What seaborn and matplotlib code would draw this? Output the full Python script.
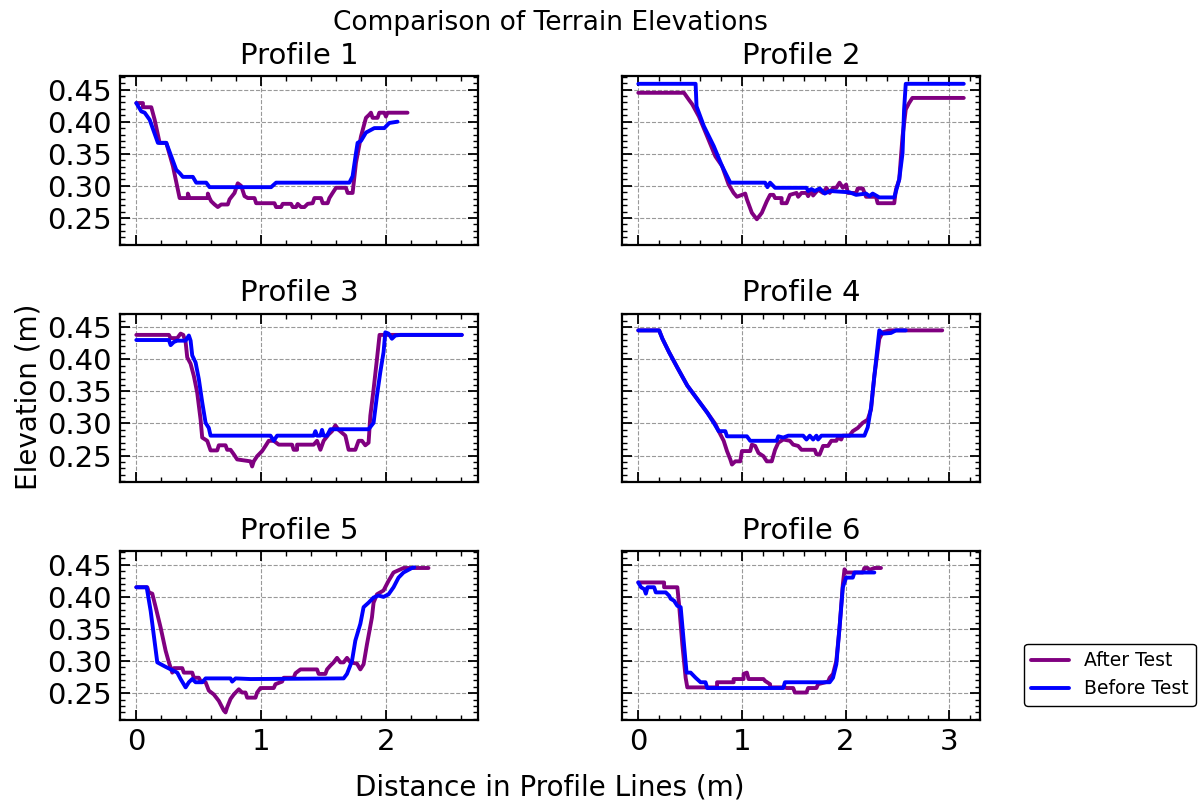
import matplotlib
matplotlib.use("Agg")
import matplotlib.pyplot as plt
from matplotlib.ticker import AutoMinorLocator, MultipleLocator, FormatStrFormatter
from matplotlib.lines import Line2D
import pandas as pd
import seaborn as sns

# Surveyed elevation profiles: (distance along line [m], elevation [m])
P1_AFTER = [(0, 0.429), (0.053, 0.429), (0.053, 0.4225), (0.12, 0.4225), (0.147, 0.403), (0.187, 0.367),
            (0.24, 0.367), (0.293, 0.331), (0.347, 0.281), (0.413, 0.281), (0.413, 0.288), (0.427, 0.281),
            (0.573, 0.281), (0.573, 0.288), (0.587, 0.281), (0.6, 0.276), (0.627, 0.271), (0.653, 0.267),
            (0.68, 0.271), (0.733, 0.271), (0.747, 0.279), (0.787, 0.289), (0.813, 0.304), (0.84, 0.3),
            (0.867, 0.284), (0.893, 0.281), (0.947, 0.281), (0.96, 0.273), (1.107, 0.273), (1.12, 0.267),
            (1.16, 0.267), (1.173, 0.272), (1.24, 0.272), (1.253, 0.267), (1.28, 0.267), (1.293, 0.272),
            (1.32, 0.267), (1.347, 0.267), (1.373, 0.272), (1.413, 0.273), (1.427, 0.281), (1.48, 0.281),
            (1.493, 0.273), (1.533, 0.273), (1.547, 0.281), (1.573, 0.289), (1.6, 0.297), (1.68, 0.297),
            (1.693, 0.289), (1.733, 0.289), (1.76, 0.336), (1.8, 0.377), (1.84, 0.406), (1.867, 0.411),
            (1.88, 0.414), (1.893, 0.406), (1.933, 0.406), (1.947, 0.414), (1.987, 0.414), (2.0, 0.408),
            (2.013, 0.414), (2.173, 0.414)]
P1_BEFORE = [(0, 0.429), (0.04, 0.416), (0.067, 0.414), (0.107, 0.403), (0.173, 0.367), (0.24, 0.367),
             (0.28, 0.346), (0.32, 0.325), (0.347, 0.32), (0.373, 0.314), (0.453, 0.314), (0.48, 0.305),
             (0.56, 0.305), (0.587, 0.298), (1.08, 0.298), (1.12, 0.305), (1.707, 0.305), (1.733, 0.315),
             (1.76, 0.351), (1.773, 0.367), (1.8, 0.37), (1.84, 0.383), (1.907, 0.39), (1.987, 0.39),
             (2.027, 0.398), (2.093, 0.4)]

P2_AFTER = [(0, 0.445), (0.441, 0.445), (0.489, 0.434), (0.521, 0.427), (0.585, 0.408), (0.665, 0.377),
            (0.744, 0.346), (0.808, 0.331), (0.872, 0.302), (0.92, 0.289), (0.952, 0.283), (1.0, 0.286),
            (1.032, 0.288), (1.048, 0.279), (1.096, 0.258), (1.144, 0.248), (1.192, 0.258), (1.24, 0.276),
            (1.272, 0.286), (1.304, 0.286), (1.32, 0.281), (1.383, 0.281), (1.383, 0.273), (1.431, 0.273),
            (1.463, 0.286), (1.527, 0.289), (1.543, 0.283), (1.575, 0.289), (1.623, 0.289), (1.639, 0.284),
            (1.671, 0.293), (1.687, 0.285), (1.735, 0.294), (1.783, 0.289), (1.815, 0.297), (1.847, 0.289),
            (1.879, 0.297), (1.911, 0.297), (1.942, 0.305), (1.974, 0.297), (2.006, 0.302), (2.022, 0.289),
            (2.102, 0.289), (2.118, 0.296), (2.166, 0.296), (2.198, 0.283), (2.294, 0.283), (2.31, 0.273),
            (2.47, 0.273), (2.486, 0.294), (2.518, 0.31), (2.55, 0.377), (2.581, 0.419), (2.613, 0.429),
            (2.645, 0.437), (3.141, 0.437)]
P2_BEFORE = [(0, 0.459), (0.553, 0.459), (0.562, 0.424), (0.633, 0.393), (0.728, 0.362), (0.808, 0.331),
             (0.888, 0.305), (1.224, 0.305), (1.246, 0.298), (1.272, 0.305), (1.32, 0.297), (1.623, 0.297),
             (1.639, 0.292), (1.671, 0.295), (1.703, 0.292), (1.751, 0.296), (1.799, 0.288), (1.847, 0.292),
             (2.038, 0.29), (2.102, 0.286), (2.198, 0.288), (2.23, 0.284), (2.262, 0.288), (2.294, 0.285),
             (2.326, 0.282), (2.47, 0.282), (2.518, 0.31), (2.55, 0.351), (2.565, 0.419), (2.581, 0.459),
             (3.141, 0.459)]

P3_AFTER = [(0, 0.438), (0.261, 0.438), (0.275, 0.433), (0.328, 0.433), (0.355, 0.44), (0.376, 0.438),
            (0.395, 0.427), (0.408, 0.403), (0.435, 0.393), (0.461, 0.374), (0.488, 0.348), (0.515, 0.306),
            (0.528, 0.278), (0.568, 0.273), (0.595, 0.258), (0.648, 0.258), (0.661, 0.266), (0.715, 0.266),
            (0.728, 0.259), (0.755, 0.259), (0.781, 0.252), (0.808, 0.244), (0.915, 0.241), (0.928, 0.233),
            (0.941, 0.241), (0.968, 0.249), (1.008, 0.257), (1.035, 0.265), (1.061, 0.273), (1.101, 0.273),
            (1.141, 0.267), (1.248, 0.267), (1.261, 0.259), (1.288, 0.259), (1.288, 0.267), (1.421, 0.267),
            (1.448, 0.273), (1.475, 0.259), (1.501, 0.273), (1.541, 0.283), (1.568, 0.288), (1.595, 0.297),
            (1.621, 0.29), (1.675, 0.281), (1.701, 0.259), (1.755, 0.259), (1.781, 0.273), (1.808, 0.273),
            (1.835, 0.266), (1.861, 0.27), (1.875, 0.312), (1.901, 0.353), (1.928, 0.4), (1.949, 0.438),
            (2.608, 0.438)]
P3_BEFORE = [(0, 0.43), (0.261, 0.43), (0.275, 0.422), (0.301, 0.427), (0.328, 0.429), (0.395, 0.429),
             (0.421, 0.437), (0.435, 0.429), (0.448, 0.406), (0.475, 0.395), (0.501, 0.369), (0.528, 0.333),
             (0.555, 0.301), (0.581, 0.293), (0.595, 0.281), (1.075, 0.281), (1.101, 0.273), (1.128, 0.281),
             (1.421, 0.281), (1.435, 0.288), (1.448, 0.281), (1.475, 0.281), (1.488, 0.29), (1.501, 0.281),
             (1.528, 0.281), (1.555, 0.291), (1.861, 0.291), (1.901, 0.301), (1.928, 0.343), (1.955, 0.38),
             (1.981, 0.411), (1.995, 0.442), (2.021, 0.44), (2.048, 0.432), (2.075, 0.437), (2.115, 0.438),
             (2.608, 0.438)]

P4_AFTER = [(0, 0.445), (0.201, 0.445), (0.233, 0.432), (0.297, 0.411), (0.377, 0.387), (0.473, 0.359),
            (0.569, 0.338), (0.665, 0.317), (0.744, 0.299), (0.776, 0.288), (0.824, 0.273), (0.856, 0.257),
            (0.888, 0.244), (0.904, 0.236), (0.936, 0.241), (0.984, 0.241), (1.0, 0.257), (1.08, 0.257),
            (1.096, 0.267), (1.128, 0.265), (1.16, 0.254), (1.208, 0.249), (1.24, 0.241), (1.288, 0.241),
            (1.32, 0.259), (1.351, 0.27), (1.399, 0.275), (1.463, 0.273), (1.495, 0.267), (1.543, 0.265),
            (1.575, 0.259), (1.703, 0.259), (1.719, 0.252), (1.751, 0.252), (1.783, 0.265), (1.831, 0.265),
            (1.863, 0.273), (1.911, 0.273), (1.927, 0.278), (1.958, 0.275), (1.974, 0.281), (2.038, 0.281),
            (2.07, 0.288), (2.118, 0.293), (2.166, 0.301), (2.214, 0.306), (2.246, 0.322), (2.278, 0.374),
            (2.326, 0.432), (2.358, 0.442), (2.422, 0.445), (2.933, 0.445)]
P4_BEFORE = [(0, 0.445), (0.201, 0.445), (0.233, 0.432), (0.297, 0.411), (0.377, 0.387), (0.473, 0.359),
             (0.569, 0.338), (0.665, 0.317), (0.728, 0.301), (0.776, 0.288), (0.84, 0.288), (0.856, 0.28),
             (1.048, 0.28), (1.08, 0.273), (1.335, 0.273), (1.351, 0.28), (1.399, 0.278), (1.447, 0.281),
             (1.591, 0.281), (1.623, 0.275), (1.655, 0.281), (1.687, 0.275), (1.719, 0.281), (1.735, 0.275),
             (1.767, 0.281), (2.182, 0.281), (2.214, 0.294), (2.246, 0.325), (2.278, 0.374), (2.326, 0.445),
             (2.358, 0.44), (2.438, 0.441), (2.486, 0.445), (2.581, 0.445)]

P5_AFTER = [(0, 0.415), (0.088, 0.415), (0.101, 0.407), (0.128, 0.405), (0.155, 0.384), (0.195, 0.352),
            (0.235, 0.316), (0.261, 0.298), (0.288, 0.282), (0.301, 0.289), (0.368, 0.289), (0.381, 0.282),
            (0.448, 0.282), (0.461, 0.274), (0.501, 0.274), (0.515, 0.269), (0.555, 0.267), (0.581, 0.254),
            (0.621, 0.248), (0.661, 0.238), (0.701, 0.223), (0.715, 0.22), (0.728, 0.228), (0.755, 0.241),
            (0.781, 0.248), (0.821, 0.256), (0.848, 0.251), (0.875, 0.251), (0.888, 0.243), (0.955, 0.243),
            (0.968, 0.251), (0.995, 0.258), (1.101, 0.258), (1.115, 0.264), (1.168, 0.268), (1.181, 0.274),
            (1.261, 0.274), (1.275, 0.281), (1.315, 0.287), (1.448, 0.287), (1.461, 0.28), (1.515, 0.28),
            (1.528, 0.287), (1.555, 0.293), (1.581, 0.298), (1.608, 0.305), (1.635, 0.298), (1.661, 0.298),
            (1.688, 0.305), (1.715, 0.298), (1.768, 0.296), (1.795, 0.287), (1.821, 0.295), (1.848, 0.326),
            (1.888, 0.368), (1.901, 0.391), (1.928, 0.404), (1.981, 0.41), (2.021, 0.425), (2.061, 0.438),
            (2.141, 0.445), (2.341, 0.445)]
P5_BEFORE = [(0, 0.415), (0.083, 0.415), (0.115, 0.378), (0.168, 0.298), (0.235, 0.291), (0.328, 0.282),
             (0.355, 0.272), (0.395, 0.259), (0.421, 0.267), (0.448, 0.272), (0.475, 0.267), (0.528, 0.267),
             (0.555, 0.273), (0.755, 0.273), (0.768, 0.268), (0.795, 0.273), (0.915, 0.272), (1.661, 0.273),
             (1.688, 0.28), (1.728, 0.3), (1.755, 0.332), (1.795, 0.358), (1.821, 0.384), (1.861, 0.391),
             (1.901, 0.399), (1.941, 0.402), (1.981, 0.4), (2.021, 0.404), (2.061, 0.415), (2.101, 0.43),
             (2.141, 0.438), (2.208, 0.445), (2.227, 0.446)]

P6_AFTER = [(0, 0.4225), (0.249, 0.4225), (0.249, 0.415), (0.377, 0.415), (0.393, 0.389), (0.425, 0.326),
            (0.457, 0.274), (0.473, 0.259), (0.76, 0.259), (0.76, 0.267), (0.92, 0.267), (0.92, 0.272),
            (1.016, 0.272), (1.016, 0.28), (1.048, 0.282), (1.064, 0.272), (1.208, 0.272), (1.224, 0.269),
            (1.272, 0.264), (1.272, 0.259), (1.415, 0.259), (1.431, 0.258), (1.495, 0.258), (1.511, 0.251),
            (1.623, 0.251), (1.639, 0.258), (1.719, 0.258), (1.735, 0.264), (1.831, 0.268), (1.847, 0.274),
            (1.879, 0.28), (1.911, 0.3), (1.942, 0.352), (1.974, 0.42), (1.99, 0.443), (2.006, 0.438),
            (2.166, 0.438), (2.182, 0.445), (2.214, 0.445), (2.23, 0.442), (2.278, 0.445), (2.342, 0.445)]
P6_BEFORE = [(0, 0.4225), (0.026, 0.415), (0.058, 0.412), (0.073, 0.405), (0.089, 0.415), (0.153, 0.415),
             (0.169, 0.407), (0.265, 0.407), (0.297, 0.402), (0.313, 0.397), (0.345, 0.394), (0.377, 0.386),
             (0.409, 0.384), (0.441, 0.326), (0.466, 0.282), (0.505, 0.282), (0.553, 0.274), (0.601, 0.267),
             (0.649, 0.267), (0.665, 0.258), (1.399, 0.258), (1.415, 0.267), (1.847, 0.267), (1.879, 0.274),
             (1.911, 0.295), (1.942, 0.352), (1.974, 0.415), (2.006, 0.43), (2.07, 0.43), (2.086, 0.438),
             (2.278, 0.438)]

PROFILE_TITLES = ["Profile 1", "Profile 2", "Profile 3", "Profile 4", "Profile 5", "Profile 6"]
PROFILES = [(P1_AFTER, P1_BEFORE), (P2_AFTER, P2_BEFORE), (P3_AFTER, P3_BEFORE),
            (P4_AFTER, P4_BEFORE), (P5_AFTER, P5_BEFORE), (P6_AFTER, P6_BEFORE)]
SERIES_NAMES = ["After Test", "Before Test"]
SERIES_COLORS = {"After Test": "#800080", "Before Test": "#0000FF"}

sns.set_style("white")
plt.rcParams["font.family"] = ["DejaVu Sans"]
plt.rcParams.update({
    "text.color": "black",
    "axes.labelcolor": "black",
    "xtick.color": "black",
    "ytick.color": "black",
    "axes.edgecolor": "black",
})


def to_frame(after, before):
    rows = []
    for name, pts in zip(SERIES_NAMES, (after, before)):
        for d, e in pts:
            rows.append({"Distance": d, "Elevation": e, "Series": name})
    return pd.DataFrame(rows)


fig, axes = plt.subplots(3, 2, figsize=(12.04, 8.1), dpi=100, sharex="col", sharey=True)
fig.subplots_adjust(left=0.0997, right=0.814, top=0.906, bottom=0.111, wspace=0.402, hspace=0.408)

for ax, title, (after, before) in zip(axes.flat, PROFILE_TITLES, PROFILES):
    df = to_frame(after, before)
    sns.lineplot(data=df, x="Distance", y="Elevation", hue="Series", hue_order=SERIES_NAMES,
                 palette=SERIES_COLORS, estimator=None, sort=False, linewidth=2.8,
                 ax=ax, legend=False)
    ax.set_title(title, fontsize=21, pad=9, color="black")
    ax.set_xlabel("")
    ax.set_ylabel("")
    ax.grid(True, which="major", linestyle="--", color="gray", linewidth=0.8, alpha=0.8)
    ax.xaxis.set_major_locator(MultipleLocator(1))
    ax.yaxis.set_major_locator(MultipleLocator(0.05))
    ax.yaxis.set_major_formatter(FormatStrFormatter("%.2f"))
    ax.xaxis.set_minor_locator(AutoMinorLocator(5))
    ax.yaxis.set_minor_locator(AutoMinorLocator(5))
    ax.tick_params(which="both", direction="in", top=True, right=True, bottom=True, left=True,
                   labelsize=21, pad=6, color="black", labelcolor="black")
    ax.tick_params(which="major", length=7, width=1.3)
    ax.tick_params(which="minor", length=3.5, width=1.0)
    for sp in ax.spines.values():
        sp.set_linewidth(1.6)
        sp.set_color("black")

fig.suptitle("Comparison of Terrain Elevations", x=0.457, y=0.988, va="top", fontsize=19, color="black")
fig.text(0.457, 0.01, "Distance in Profile Lines (m)", ha="center", va="bottom", fontsize=20, color="black")
fig.text(0.012, 0.51, "Elevation (m)", rotation=90, ha="left", va="center", fontsize=20, color="black")

handles = [Line2D([0], [0], color=SERIES_COLORS[n], linewidth=2.8) for n in SERIES_NAMES]
leg = fig.legend(handles, SERIES_NAMES, loc="lower right", bbox_to_anchor=(0.9934, 0.1284),
                 borderaxespad=0, fontsize=13.5, frameon=True, fancybox=True)
for txt in leg.get_texts():
    txt.set_color("black")
leg.get_frame().set_edgecolor("black")
leg.get_frame().set_linewidth(1.0)
leg.get_frame().set_alpha(1)

fig.savefig("out.png", dpi=100)
